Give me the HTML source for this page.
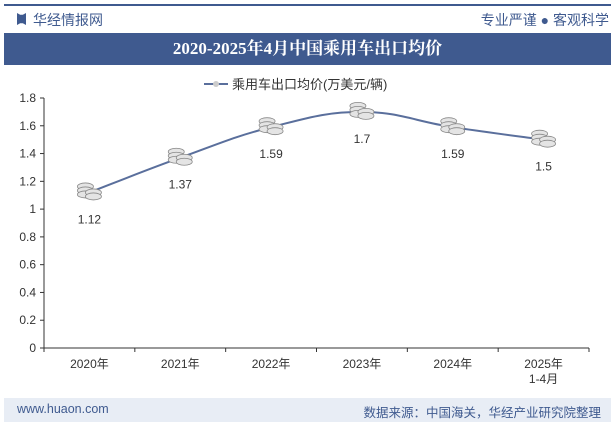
<!DOCTYPE html>
<html><head><meta charset="utf-8"><style>
body{margin:0;width:615px;height:427px;background:#fff;font-family:"Liberation Sans","Noto Sans CJK SC",sans-serif;overflow:hidden;position:relative}
.abs{position:absolute}
</style></head><body>
<div class="abs" style="left:4px;top:4px;width:607px;height:2px;background:#3f5a8f"></div>
<div class="abs" style="left:17px;top:13px;width:9px;height:12px;background:#3f5a8f;clip-path:polygon(0 0,35% 15%,65% 15%,100% 0,100% 100%,65% 85%,35% 85%,0 100%)"></div>
<div class="abs" style="left:33px;top:10px;font-size:14px;color:#3f5a8f">华经情报网</div>
<div class="abs" style="right:6px;top:10px;font-size:14px;color:#3f5a8f">专业严谨 ● 客观科学</div>
<div class="abs" style="left:4px;top:33px;width:607px;height:32px;background:#3f5a8f;color:#fff;font-size:17px;font-weight:bold;text-align:center;line-height:32px;font-family:'Liberation Serif','Noto Serif CJK SC',serif">2020-2025年4月中国乘用车出口均价</div>
<svg class="abs" style="left:0;top:0" width="615" height="427" id="svg"></svg>
<div class="abs" style="left:4px;top:398px;width:607px;height:24px;background:#e8edf5"></div>
<div class="abs" style="left:17px;top:402px;font-size:12.5px;color:#3f5a8f">www.huaon.com</div>
<div class="abs" style="right:14px;top:402px;font-size:12.5px;color:#3f5a8f">数据来源：中国海关，华经产业研究院整理</div>
<script>
const categories=["2020年","2021年","2022年","2023年","2024年","2025年\n1-4月"];
const values=[1.12,1.37,1.59,1.7,1.59,1.5];
const yTicks=[0,0.2,0.4,0.6,0.8,1,1.2,1.4,1.6,1.8];
const svg=document.getElementById('svg');
const NS='http://www.w3.org/2000/svg';
const x0=44,x1=589,y0=348,y1=98,yMax=1.8;
const bw=(x1-x0)/categories.length;
const X=i=>x0+bw*(i+0.5);
const Y=v=>y0-(v/yMax)*(y0-y1);
function el(t,a,p){const e=document.createElementNS(NS,t);for(const k in a)e.setAttribute(k,a[k]);(p||svg).appendChild(e);return e;}
let ax=el('line',{x1:x0,y1:y1,x2:x0,y2:y0,stroke:'#333'});

let bx=el('line',{x1:x0,y1:y0,x2:x1,y2:y0,stroke:'#333'});

yTicks.forEach(v=>{
 el('line',{x1:x0-4,x2:x0,y1:Y(v),y2:Y(v),stroke:'#333'});
 const t=el('text',{x:x0-8,y:Y(v)+4,'text-anchor':'end','font-size':12,fill:'#333'});t.textContent=String(v);
 
});
for(let i=0;i<=categories.length;i++)el('line',{x1:x0+bw*i,x2:x0+bw*i,y1:y0,y2:y0+4,stroke:'#333'});
categories.forEach((c,i)=>{
 c.split('\n').forEach((s,j)=>{
  const t=el('text',{x:X(i),y:y0+20+j*15,'text-anchor':'middle','font-size':12,fill:'#333'});t.textContent=s;
  
 });
});
el('line',{x1:204,x2:228,y1:84,y2:84,stroke:'#5a6f9c','stroke-width':2});
el('circle',{cx:216,cy:84,r:3,fill:'#ccc'});
const lg=el('text',{x:232,y:89,'font-size':13,fill:'#333'});lg.textContent='乘用车出口均价(万美元/辆)';

const pts=values.map((v,i)=>[X(i),Y(v)]);
let d=`M${pts[0][0]},${pts[0][1]}`;
for(let i=0;i<pts.length-1;i++){
 const p0=pts[i-1]||pts[i],p1=pts[i],p2=pts[i+1],p3=pts[i+2]||p2,k=0.2;
 d+=` C${p1[0]+(p2[0]-p0[0])*k},${p1[1]+(p2[1]-p0[1])*k} ${p2[0]-(p3[0]-p1[0])*k},${p2[1]-(p3[1]-p1[1])*k} ${p2[0]},${p2[1]}`;
}
const ln=el('path',{d:d,fill:'none',stroke:'#5a6f9c','stroke-width':2});

values.forEach((v,i)=>{
 const g=el('g',{});
 
 const cx=X(i),cy=Y(v);
 [[-4,-6],[-4,-2],[-4,2],[4,0],[4,4]].forEach(o=>el('ellipse',{cx:cx+o[0],cy:cy+o[1],rx:8,ry:3.5,fill:'#e4e4e4',stroke:'#888','stroke-width':0.8},g));
 const t=el('text',{x:cx,y:cy+31,'font-size':12,fill:'#333','text-anchor':'middle'});
 t.textContent=String(v);
 
});
</script>
</body></html>
